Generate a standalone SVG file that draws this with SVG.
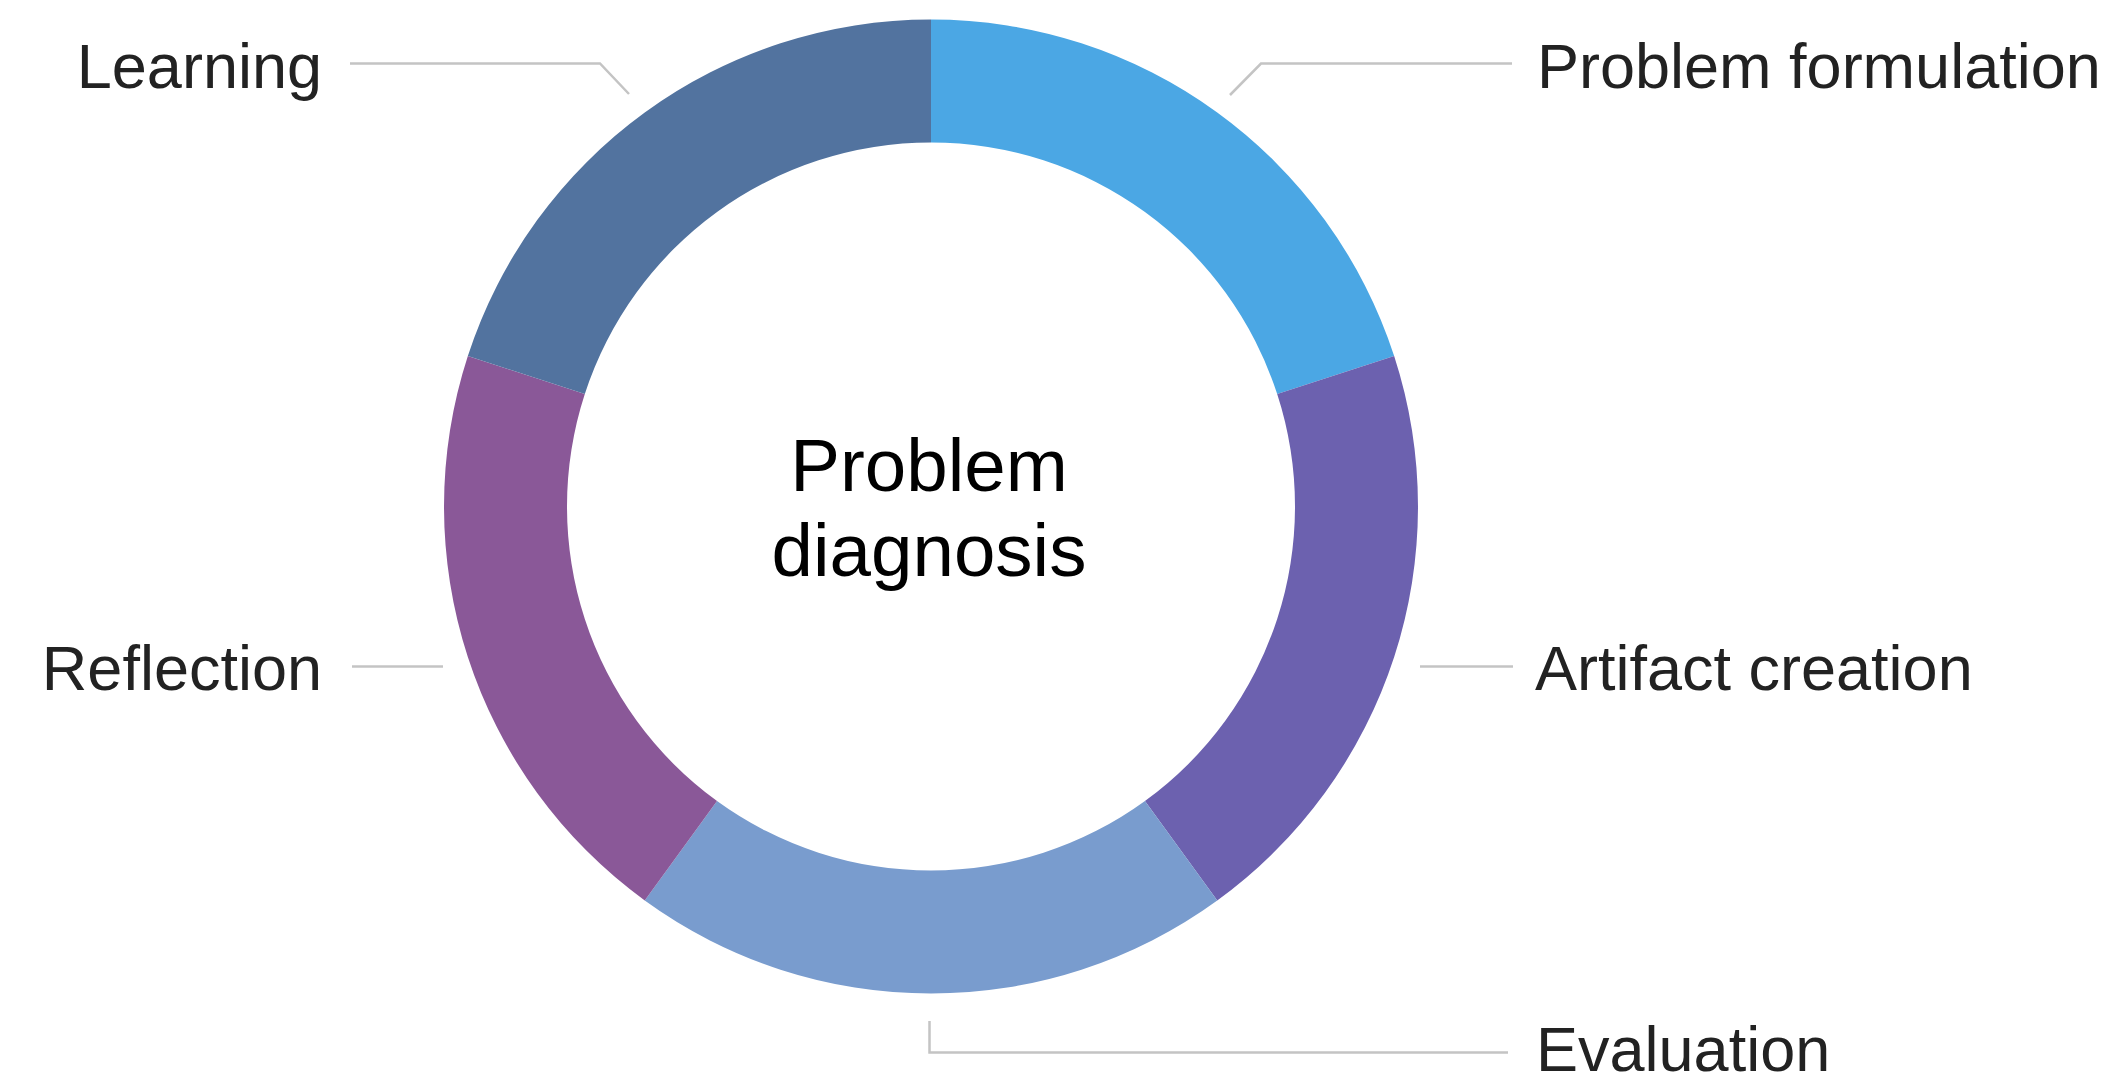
<svg xmlns="http://www.w3.org/2000/svg" width="2115" height="1084" viewBox="0 0 2115 1084">
<style>
.lbl{font-family:"Liberation Sans",Arial,Helvetica,sans-serif;font-size:63px;fill:#222}
.ctr{font-family:"Liberation Sans",Arial,Helvetica,sans-serif;font-size:74.5px;fill:#000}
.lead{fill:none;stroke:#c4c4c4;stroke-width:2.5}
</style>
<rect width="2115" height="1084" fill="#fff"/>
<g id="ring">
<g id="problem-formulation"><path d="M931,19.5 A487,487 0 0 1 1394.16,356.01 L1277.19,394.02 A364,364 0 0 0 931,142.5 Z" fill="#4BA7E4"/></g>
<g id="artifact-creation"><path d="M1394.16,356.01 A487,487 0 0 1 1217.25,900.49 L1144.96,800.98 A364,364 0 0 0 1277.19,394.02 Z" fill="#6C61AF"/></g>
<g id="evaluation"><path d="M1217.25,900.49 A487,487 0 0 1 644.75,900.49 L717.04,800.98 A364,364 0 0 0 1144.96,800.98 Z" fill="#799CCE"/></g>
<g id="reflection"><path d="M644.75,900.49 A487,487 0 0 1 467.84,356.01 L584.81,394.02 A364,364 0 0 0 717.04,800.98 Z" fill="#8A5898"/></g>
<g id="learning"><path d="M467.84,356.01 A487,487 0 0 1 931,19.5 L931,142.5 A364,364 0 0 0 584.81,394.02 Z" fill="#52739F"/></g>
</g>
<g id="connectors">
<polyline class="lead" points="350,63.5 600,63.5 629,94"/>
<polyline class="lead" points="1512,63.5 1261,63.5 1230,95"/>
<line class="lead" x1="1420" y1="666.5" x2="1513" y2="666.5"/>
<line class="lead" x1="352" y1="666.5" x2="443" y2="666.5"/>
<polyline class="lead" points="929.5,1021 929.5,1052.5 1508,1052.5"/>
</g>
<g id="labels">
<text class="lbl" x="322" y="88" text-anchor="end">Learning</text>
<text class="lbl" x="1537" y="88">Problem formulation</text>
<text class="lbl" x="1535" y="690" font-size="63.5">Artifact creation</text>
<text class="lbl" x="322" y="690" text-anchor="end">Reflection</text>
<text class="lbl" x="1536" y="1071">Evaluation</text>
</g>
<g id="center">
<text class="ctr" x="929" y="491" text-anchor="middle">Problem</text>
<text class="ctr" x="929" y="576" text-anchor="middle">diagnosis</text>
</g>
</svg>
